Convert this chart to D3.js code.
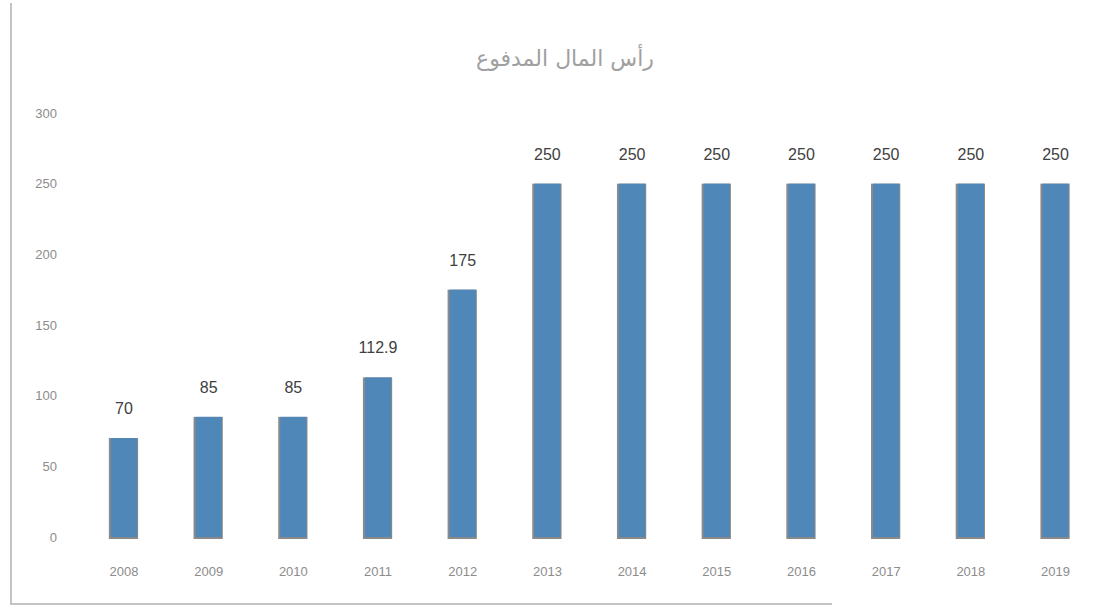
<!DOCTYPE html>
<html>
<head>
<meta charset="utf-8">
<script src="https://d3js.org/d3.v7.min.js"></script>
<style>
    body { margin: 0; background: #fff; }
    svg { display: block; }
</style>
</head>
<body>
<svg></svg>
<script>
    // chart values
    var years = ["2008", "2009", "2010", "2011", "2012", "2013", "2014", "2015", "2016", "2017", "2018", "2019"]
    var capital = [70, 85, 85, 112.9, 175, 250, 250, 250, 250, 250, 250, 250]
    var yTicks = [0, 50, 100, 150, 200, 250, 300]
    var title = "رأس المال المدفوع"

    var width = 1114
    var height = 608
    var svg = d3.select("svg").attr("width", width).attr("height", height)

    // frame edges (only left and bottom are visible)
    svg.append("line").attr("x1", 11).attr("x2", 11).attr("y1", 3).attr("y2", 604)
        .attr("stroke", "#c4c4c4").attr("stroke-width", 2)
    svg.append("line").attr("x1", 10).attr("x2", 832).attr("y1", 604).attr("y2", 604)
        .attr("stroke", "#c4c4c4").attr("stroke-width", 2)

    var x = d3.scaleBand().domain(years).range([68.5, 1111]).paddingInner(0.69).paddingOuter(0.5)
    var y = d3.scaleLinear().domain([0, 300]).range([537, 113])

    // y axis labels, no lines
    var yAxis = svg.append("g")
        .attr("transform", "translate(57,0)")
        .call(d3.axisLeft(y).tickValues(yTicks).tickSize(0).tickPadding(0))
    yAxis.select(".domain").remove()
    yAxis.selectAll("text")
        .style("font-family", "Liberation Sans, Arial, sans-serif")
        .style("font-size", "13px")
        .attr("fill", "#8c8c8c")

    // x axis labels
    var xAxis = svg.append("g")
        .attr("transform", "translate(0,537)")
        .call(d3.axisBottom(x).tickSize(0).tickPadding(30))
    xAxis.select(".domain").remove()
    xAxis.selectAll("text")
        .style("font-family", "Liberation Sans, Arial, sans-serif")
        .style("font-size", "13px")
        .attr("fill", "#8c8c8c")

    // bars
    var bars = svg.append("g")
    bars.selectAll("rect.shade")
        .data(capital)
        .enter().append("rect")
        .attr("class", "shade")
        .attr("x", function(d, i) { return x(years[i]) - 2 })
        .attr("y", function(d) { return y(d) })
        .attr("width", x.bandwidth() + 3)
        .attr("height", function(d) { return y(0) - y(d) + 2 })
        .attr("fill", "#8a8a8a")
    bars.selectAll("rect.bar")
        .data(capital)
        .enter().append("rect")
        .attr("class", "bar")
        .attr("x", function(d, i) { return x(years[i]) })
        .attr("y", function(d) { return y(d) })
        .attr("width", x.bandwidth())
        .attr("height", function(d) { return y(0) - y(d) })
        .attr("fill", "#4f87b8")

    // value labels
    svg.append("g").selectAll("text")
        .data(capital)
        .enter().append("text")
        .attr("x", function(d, i) { return x(years[i]) + x.bandwidth() / 2 })
        .attr("y", function(d) { return y(d) - 24 })
        .attr("text-anchor", "middle")
        .style("font-family", "Liberation Sans, Arial, sans-serif")
        .style("font-size", "16px")
        .attr("fill", "#404040")
        .text(function(d) { return d })

    // title
    svg.append("text")
        .attr("x", 565)
        .attr("y", 66)
        .attr("text-anchor", "middle")
        .attr("direction", "rtl")
        .style("font-family", "DejaVu Sans, Noto Sans, sans-serif")
        .style("font-size", "22px")
        .attr("fill", "#a0a0a0")
        .text(title)
</script>
</body>
</html>
